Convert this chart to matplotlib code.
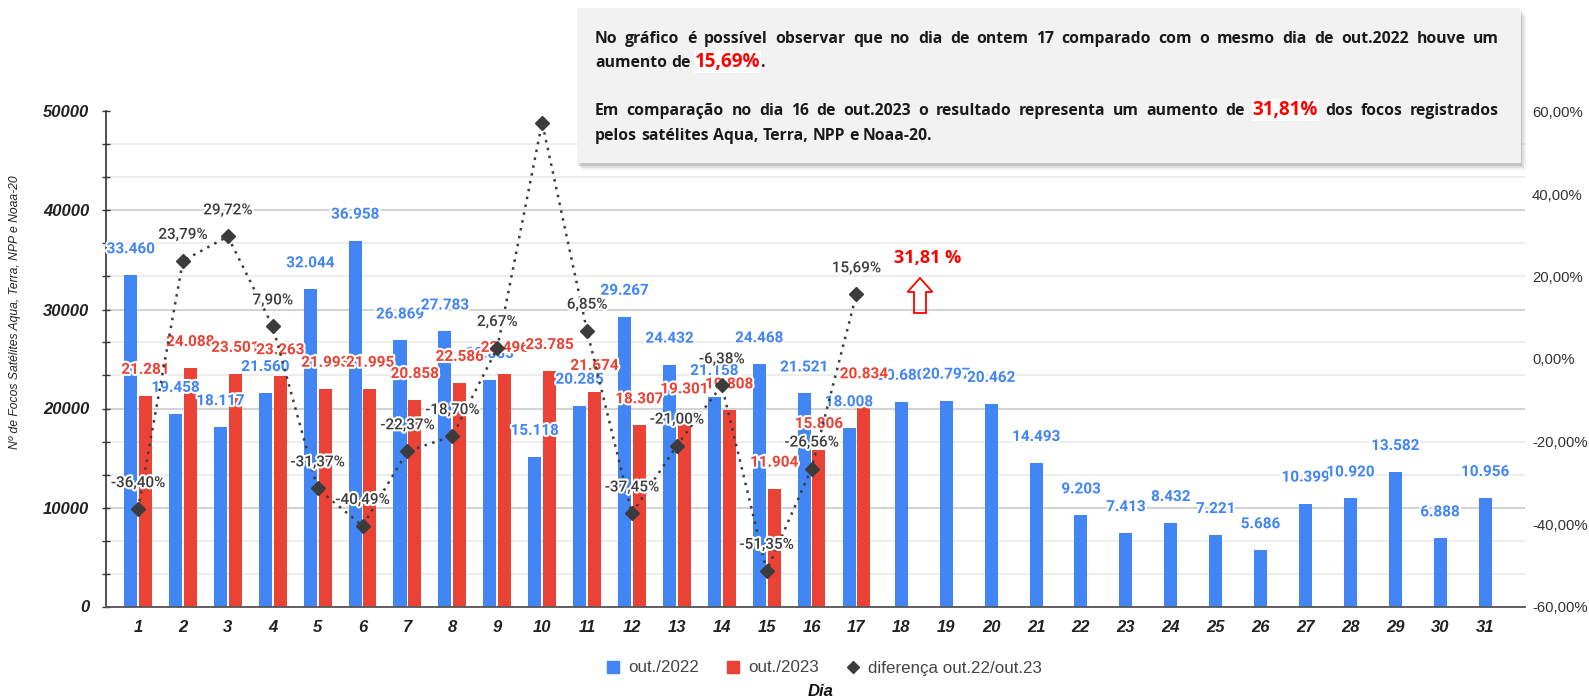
import numpy as np
import matplotlib
matplotlib.use("Agg")
import matplotlib.pyplot as plt
import matplotlib.patheffects as pe
from matplotlib.patches import Rectangle, FancyArrow
from matplotlib.lines import Line2D
from matplotlib.ticker import AutoMinorLocator
from matplotlib.transforms import IdentityTransform

# focos por dia (Aqua, Terra, NPP e Noaa-20)
dias = list(range(1, 32))
out_2022 = [33460, 19458, 18117, 21560, 32044, 36958, 26869, 27783, 22885, 15118,
            20285, 29267, 24432, 21158, 24468, 21521, 18008, 20680, 20797, 20462,
            14493, 9203, 7413, 8432, 7221, 5686, 10399, 10920, 13582, 6888, 10956]
out_2023 = [21281, 24088, 23501, 23263, 21993, 21995, 20858, 22586, 23496, 23785,
            21674, 18307, 19301, 19808, 11904, 15806, 20834]
diferenca = [-36.40, 23.79, 29.72, 7.90, -31.37, -40.49, -22.37, -18.70, 2.67, 57.33,
             6.85, -37.45, -21.00, -6.38, -51.35, -26.56, 15.69]
ticks_esq = [0, 10000, 20000, 30000, 40000, 50000]
ticks_dir = [-60, -40, -20, 0, 20, 40, 60]

linha1 = "No gráfico é possível observar que no dia de ontem 17 comparado com o mesmo dia de out.2022 houve um"
linha2 = [("aumento", False, True), ("de", False, True), ("15,69%", True, True), (".", False, False)]
linha3 = [(w, False, True) for w in "Em comparação no dia 16 de out.2023 o resultado representa um aumento de".split()] \
    + [("31,81%", True, True)] + [(w, False, True) for w in "dos focos registrados".split()]
linha4 = "pelos satélites Aqua, Terra, NPP e Noaa-20."

W, H = 1589, 699
BLUE = "#4285f4"
RED = "#ea4335"
DARK = "#3c3c3c"
BOX_FS = 11.3

plt.rcParams["font.family"] = ["Liberation Sans", "DejaVu Sans"]


def fx(px):
    return px / W


def fy(py):
    return 1 - py / H


fig = plt.figure(figsize=(W / 100, H / 100), dpi=100)
ax = fig.add_axes([fx(106), fy(606.5), fx(1525) - fx(106), fy(111.5) - fy(606.5)])
ax2 = ax.twinx()

x = np.array(dias, dtype=float)
n23 = len(out_2023)
off = np.where(np.arange(len(dias)) < n23, -0.165, 0.0)

ax.bar(x + off, out_2022, width=0.29, color=BLUE, zorder=2)
ax.bar(x[:n23] + 0.165, out_2023, width=0.29, color=RED, zorder=2)

halo = [pe.withStroke(linewidth=3, foreground="white")]


def milhar(v):
    return f"{v:,}".replace(",", ".")


for xi, v in zip(x + off, out_2022):
    ax.annotate(milhar(v), (xi, v), xytext=(0, 26), textcoords="offset pixels",
                ha="center", va="center", color=BLUE, fontsize=11, fontweight="bold",
                family="Roboto", path_effects=halo, zorder=4)
for xi, v in zip(x[:n23] + 0.165, out_2023):
    ax.annotate(milhar(v), (xi, v), xytext=(0, 26), textcoords="offset pixels",
                ha="center", va="center", color=RED, fontsize=11, fontweight="bold",
                family="Roboto", path_effects=halo, zorder=4)

ax2.plot(x[:n23], diferenca, color=DARK, ls=(0, (1, 2.2)), lw=1.8, marker="D", ms=7, zorder=3)
for xi, v in zip(x[:n23], diferenca):
    ax2.annotate(f"{v:.2f}%".replace(".", ","), (xi, v), xytext=(0, 26), textcoords="offset pixels",
                 ha="center", va="center", color="#3d3d3d", fontsize=11, fontweight="medium",
                 family="Roboto", path_effects=halo, clip_on=True, zorder=5)

ax.set_xlim(0.287, 31.89)
ax.set_ylim(0, 50000)
ax2.set_ylim(-60, 60)

ax.set_axisbelow(True)
ax.set_yticks(ticks_esq)
ax.set_yticklabels([str(t) for t in ticks_esq])
ax.yaxis.set_minor_locator(AutoMinorLocator(3))
ax.yaxis.grid(True, which="major", color="#cfcfcf", lw=1.3)
ax.yaxis.grid(True, which="minor", color="#e8e8e8", lw=1.1)
ax.tick_params(axis="y", which="both", direction="inout", length=6, width=1, color="#333333", pad=9)
ax.tick_params(axis="y", labelsize=12)
ax.set_xticks(dias)
ax.set_xticklabels([str(d) for d in dias])
ax.tick_params(axis="x", length=0, pad=10, labelsize=12)
for lbl in ax.get_xticklabels() + ax.get_yticklabels():
    lbl.set_fontweight("bold")
    lbl.set_fontstyle("italic")
    lbl.set_color("#222222")

for s in ["top", "right"]:
    ax.spines[s].set_visible(False)
ax.spines["left"].set_color("#333333")
ax.spines["bottom"].set_color("#555555")
ax.spines["left"].set_linewidth(1.2)
ax.spines["bottom"].set_linewidth(1.3)
for s in ax2.spines.values():
    s.set_visible(False)

ax2.set_yticks(ticks_dir)
ax2.set_yticklabels([f"{t:.2f}%".replace(".", ",") for t in ticks_dir])
ax2.tick_params(axis="y", length=0, pad=5, labelsize=10.7, labelcolor="#333333")

fig.text(fx(15), fy(312), "Nº de Focos Satélites Aqua, Terra, NPP e Noaa-20", rotation=90,
         ha="center", va="center", fontsize=8.7, style="italic", color="#222222")
fig.text(fx(821), fy(692), "Dia", ha="center", va="center", fontsize=12,
         fontweight="bold", style="italic", color="#111111")

handles = [Line2D([], [], ls="none", marker="s", ms=9, color=BLUE),
           Line2D([], [], ls="none", marker="s", ms=9, color=RED),
           Line2D([], [], ls="none", marker="D", ms=6.5, color=DARK)]
fig.legend(handles, ["out./2022", "out./2023", "diferença out.22/out.23"], loc="center",
           bbox_to_anchor=(fx(824), fy(668)), ncol=3, frameon=False, fontsize=12.2,
           handlelength=0.8, handletextpad=0.5, columnspacing=1.6, labelcolor="#444444")

# caixa de texto com sombra
bx0, by0, bx1, by1 = 577, 8, 1521, 163
for k, a in [(7, 0.05), (5, 0.08), (3, 0.12)]:
    fig.add_artist(Rectangle((fx(bx0 + k - 2), fy(by1 + k)), (bx1 - bx0) / W, (by1 - by0) / H,
                             transform=fig.transFigure, fc="black", alpha=a, ec="none"))
fig.add_artist(Rectangle((fx(bx0), fy(by1)), (bx1 - bx0) / W, (by1 - by0) / H,
                         transform=fig.transFigure, fc="#f2f2f2", ec="none"))

ren = fig.canvas.get_renderer()
TX0, TX1 = 595, 1499


def put_line(parts, base, justify):
    items = []
    for s, red, gap in parts:
        kw = dict(fontsize=13.5, color="#ff0000",
                  bbox=dict(fc="white", ec="none", pad=0.5)) if red else dict(fontsize=BOX_FS, color="#1a1a1a")
        t = fig.text(0, fy(base), s, family="Open Sans", fontweight="bold", va="baseline", **kw)
        items.append((t, t.get_window_extent(ren).width, gap))
    if justify:
        ngap = sum(1 for it in items[1:] if it[2])
        sp = (TX1 - TX0 - sum(it[1] for it in items)) / ngap
    else:
        a = fig.text(0, 0, "a a", family="Open Sans", fontweight="bold", fontsize=BOX_FS)
        b = fig.text(0, 0, "aa", family="Open Sans", fontweight="bold", fontsize=BOX_FS)
        sp = a.get_window_extent(ren).width - b.get_window_extent(ren).width
        a.remove()
        b.remove()
    xp = TX0
    for i, (t, w, gap) in enumerate(items):
        if i and gap:
            xp += sp
        t.set_x(fx(xp))
        xp += w


put_line([(w, False, True) for w in linha1.split()], 43, True)
put_line(linha2, 67, False)
put_line(linha3, 115, True)
put_line([(w, False, True) for w in linha4.split()], 140, False)

fig.text(fx(928), fy(258), "31,81 %", color="#ff0000", fontsize=13, fontweight="bold",
         family="Open Sans", ha="center", va="center")
fig.add_artist(FancyArrow(920, H - 313, 0, 35, width=12, head_width=25, head_length=14,
                          length_includes_head=True, fill=False, ec="#ff0000", lw=1.3,
                          transform=IdentityTransform()))

fig.savefig("out.png", dpi=100)
